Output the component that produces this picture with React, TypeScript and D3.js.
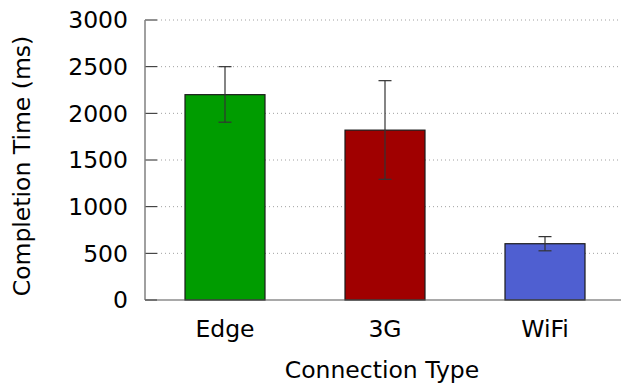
import React from "react";
import * as d3 from "d3";

const categories = ["Edge", "3G", "WiFi"];
const means = [2200, 1820, 603];
const errLow = [1905, 1293, 527];
const errHigh = [2500, 2350, 679];
const colors = ["#009c00", "#a00000", "#4f5fd1"];
const yTicks = [0, 500, 1000, 1500, 2000, 2500, 3000];

export default function App() {
  const W = 621, H = 385;
  const left = 145, top = 20, bottom = 300, right = 625;
  const x = d3.scaleBand<string>().domain(categories).range([left, right]).paddingInner(0.5).paddingOuter(0.25);
  const y = d3.scaleLinear().domain([0, 3000]).range([bottom, top]);
  const font = "DejaVu Sans, sans-serif";
  return (
    <svg width={W} height={H} style={{ position: "absolute", left: 0, top: 0 }} fontFamily={font}>
      <rect width={W} height={H} fill="#fff" />
      {yTicks.map((t) => (
        <g key={t}>
          {t > 0 && (
            <line x1={left + 12} x2={W} y1={y(t)} y2={y(t)} stroke="#a0a0a0" strokeWidth={1} strokeDasharray="1,3" />
          )}
          <line x1={left} x2={left + 12} y1={y(t)} y2={y(t)} stroke="#222" strokeWidth={1} />
          <text x={128} y={y(t)} dy="0.36em" textAnchor="end" fontSize={23.5} fill="#000">
            {t}
          </text>
        </g>
      ))}
      {categories.map((c, i) => {
        const bx = x(c)!;
        const bw = x.bandwidth();
        const cx = bx + bw / 2;
        return (
          <g key={c}>
            <rect x={bx} y={y(means[i])} width={bw} height={bottom - y(means[i])} fill={colors[i]} stroke="#1a1a1a" strokeWidth={1.2} />
            <line x1={cx} x2={cx} y1={y(errHigh[i])} y2={y(errLow[i])} stroke="#333" strokeWidth={1.2} />
            <line x1={cx - 6.5} x2={cx + 6.5} y1={y(errHigh[i])} y2={y(errHigh[i])} stroke="#333" strokeWidth={1.2} />
            <line x1={cx - 6.5} x2={cx + 6.5} y1={y(errLow[i])} y2={y(errLow[i])} stroke="#333" strokeWidth={1.2} />
            <text x={cx} y={337} textAnchor="middle" fontSize={23.5} fill="#000">
              {c}
            </text>
          </g>
        );
      })}
      <line x1={left} x2={left} y1={top} y2={bottom} stroke="#808080" strokeWidth={1.5} />
      <line x1={left} x2={W} y1={bottom} y2={bottom} stroke="#555" strokeWidth={1.2} />
      <text x={382} y={378} textAnchor="middle" fontSize={23.5} fill="#000">
        Connection Type
      </text>
      <text transform={`translate(30,166) rotate(-90)`} textAnchor="middle" fontSize={23.5} fill="#000">
        Completion Time (ms)
      </text>
    </svg>
  );
}
